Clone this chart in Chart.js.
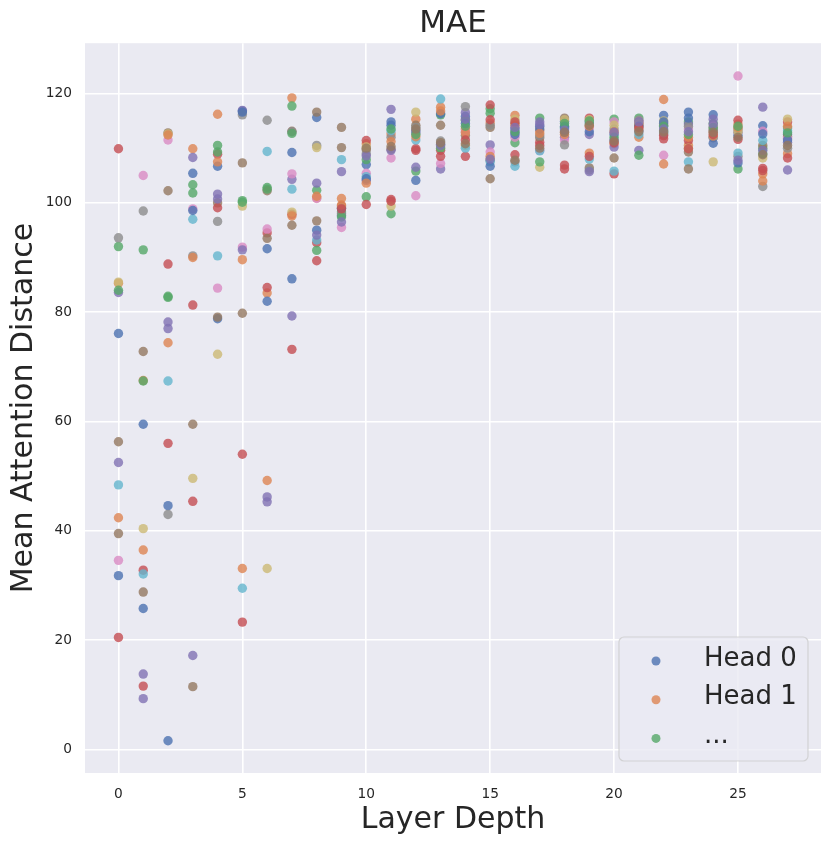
<!DOCTYPE html>
<html>
<head>
<meta charset="utf-8">
<script src="https://cdn.jsdelivr.net/npm/chart.js@4.4.1/dist/chart.umd.min.js"></script>
<style>
    html, body { margin: 0; padding: 0; background: white; }
    #maeChart { display: block; }
</style>
</head>
<body>
<canvas id="maeChart" width="831" height="845"></canvas>
<script>
/// Layer depth of every column of points
const layers = [0, 1, 2, 3, 4, 5, 6, 7, 8, 9, 10, 11, 12, 13, 14, 15, 16, 17, 18, 19, 20, 21, 22, 23, 24, 25, 26, 27];

/// Mean attention distance per head, one value per layer
const head0  = [76.1, 59.5, 44.6, 105.4, 106.7, 116.8, 91.6, 109.2, 115.6, 97.7, 107.0, 114.8, 113.2, 110.7, 115.8, 107.8, 113.5, 114.0, 114.9, 114.8, 112.5, 113.2, 116.0, 116.6, 116.1, 112.3, 114.1, 112.5];
const head1  = [85.3, 67.5, 74.4, 109.9, 116.2, 89.6, 83.5, 119.2, 100.9, 100.8, 110.8, 112.6, 115.3, 117.5, 113.5, 114.6, 116.0, 113.2, 113.0, 109.1, 110.8, 112.0, 118.9, 110.5, 113.0, 114.4, 105.3, 109.0];
const head2  = [92.0, 91.4, 82.9, 103.3, 110.5, 100.4, 102.8, 117.7, 102.3, 98.3, 107.9, 98.0, 105.8, 116.1, 115.1, 117.2, 111.0, 115.5, 113.8, 114.4, 115.3, 115.5, 113.2, 114.8, 114.5, 106.2, 110.0, 113.7];
const head3  = [109.9, 32.8, 88.8, 81.3, 108.9, 54.0, 94.5, 97.9, 92.7, 99.4, 111.4, 100.6, 109.9, 109.6, 108.5, 117.9, 108.8, 111.1, 106.9, 115.5, 105.3, 114.5, 111.7, 111.4, 111.9, 115.1, 105.9, 114.8];
const head4  = [83.6, 13.8, 77.0, 108.3, 101.6, 116.9, 46.2, 104.3, 103.6, 105.7, 104.1, 117.1, 112.8, 106.2, 116.5, 110.6, 112.9, 114.8, 112.0, 112.5, 110.2, 109.6, 114.2, 114.4, 115.3, 112.9, 117.5, 111.1];
const head5  = [56.3, 72.8, 112.8, 59.5, 100.0, 107.3, 102.2, 113.1, 116.6, 113.8, 109.7, 109.8, 114.2, 114.2, 112.3, 113.8, 114.5, 111.9, 115.5, 106.4, 108.2, 114.2, 112.6, 109.3, 113.5, 113.5, 110.5, 112.1];
const head6  = [34.6, 105.0, 111.5, 98.9, 84.4, 91.9, 95.2, 105.3, 100.8, 95.5, 105.4, 108.2, 101.3, 107.2, 113.0, 109.3, 112.0, 109.6, 111.5, 113.7, 114.8, 115.0, 108.7, 113.5, 114.0, 123.2, 113.1, 111.8];
const head7  = [93.6, 98.5, 43.0, 90.3, 96.6, 116.1, 115.1, 113.0, 110.5, 98.0, 109.0, 112.0, 113.8, 111.3, 117.6, 114.2, 107.5, 112.3, 110.6, 106.0, 113.5, 115.1, 114.5, 114.0, 113.2, 108.5, 103.0, 110.0];
const head8  = [85.5, 40.4, 112.6, 49.6, 72.3, 99.4, 33.1, 98.3, 110.1, 99.2, 110.2, 99.4, 116.6, 110.2, 110.5, 107.9, 115.3, 106.5, 115.2, 115.2, 114.2, 114.6, 115.0, 110.0, 107.5, 113.0, 108.2, 115.3];
const head9  = [48.4, 32.1, 67.4, 97.0, 90.3, 29.5, 109.4, 102.5, 93.2, 107.9, 104.8, 113.2, 111.5, 119.0, 110.0, 107.5, 106.7, 109.5, 113.6, 108.0, 105.8, 112.5, 112.8, 107.5, 112.0, 109.1, 111.4, 113.2];
const head10 = [31.8, 25.8, 1.6, 98.6, 78.8, 116.6, 82.0, 86.1, 95.0, 99.0, 104.4, 114.2, 104.1, 116.3, 114.5, 106.7, 112.5, 113.5, 114.0, 113.0, 111.5, 114.0, 114.8, 115.5, 110.9, 107.3, 112.6, 111.5];
const head11 = [42.4, 36.5, 112.4, 90.0, 107.5, 33.1, 49.2, 97.6, 101.2, 99.6, 103.6, 111.2, 112.1, 116.8, 112.8, 108.5, 114.2, 112.7, 112.5, 114.0, 113.0, 113.5, 107.1, 112.0, 112.2, 113.8, 104.0, 114.0];
const head12 = [84.0, 67.4, 82.7, 101.8, 109.3, 100.1, 102.5, 112.7, 91.3, 97.4, 101.1, 113.5, 112.5, 110.0, 114.0, 116.4, 113.0, 107.5, 114.5, 115.0, 112.0, 108.7, 114.0, 112.5, 113.8, 114.0, 109.0, 112.8];
const head13 = [20.5, 11.6, 56.0, 45.4, 99.1, 23.3, 84.5, 73.2, 89.4, 98.9, 99.7, 100.3, 109.6, 108.5, 111.5, 115.2, 114.8, 110.5, 106.2, 108.5, 111.0, 113.8, 112.3, 109.9, 112.5, 111.6, 106.3, 108.2];
const head14 = [52.5, 9.3, 78.2, 17.2, 100.7, 91.4, 45.3, 79.3, 94.1, 96.5, 108.6, 109.6, 106.5, 110.5, 115.3, 108.0, 113.8, 114.3, 113.3, 105.7, 112.9, 114.8, 113.5, 113.0, 114.4, 107.8, 109.6, 106.0];
const head15 = [39.5, 28.8, 102.2, 11.5, 79.1, 79.8, 93.5, 95.9, 96.7, 110.1, 110.0, 110.3, 113.5, 111.0, 110.8, 104.4, 107.8, 110.0, 112.9, 114.2, 111.3, 113.0, 113.0, 106.2, 112.9, 112.0, 108.8, 110.5];

const heads = [head0, head1, head2, head3, head4, head5, head6, head7, head8, head9,
               head10, head11, head12, head13, head14, head15];

/// Tick labels and legend entries
const xTicks = [0, 5, 10, 15, 20, 25];
const yTicks = [0, 20, 40, 60, 80, 100, 120];
const legendLabels = ['Head 0', 'Head 1', '...'];

// seaborn "deep" palette, cycled over the heads
const palette = ['76, 114, 176', '221, 132, 82', '85, 168, 104', '196, 78, 82', '129, 114, 179',
                 '147, 120, 96', '218, 139, 195', '140, 140, 140', '204, 185, 116', '100, 181, 205'];

const textColor = '#262626';
const fontFamily = "'DejaVu Sans', sans-serif";

const datasets = heads.map((values, i) => ({
    label: 'Head ' + i,
    data: layers.map((layer, j) => ({ x: layer, y: values[j] })),
    backgroundColor: 'rgba(' + palette[i % palette.length] + ', 0.8)',
    borderWidth: 0,
    pointRadius: 4.7,
    order: heads.length - i   // later heads drawn on top, like matplotlib
}));

/// Plot background colour (seaborn darkgrid)
const plotBackground = {
    id: 'plotBackground',
    beforeDraw(chart) {
        const { ctx, chartArea: a } = chart;
        ctx.save();
        ctx.fillStyle = '#EAEAF2';
        ctx.fillRect(a.left, a.top, a.right - a.left, a.bottom - a.top);
        ctx.restore();
    }
};

/// Legend box in the lower right corner of the plot
const cornerLegend = {
    id: 'cornerLegend',
    afterDraw(chart) {
        const ctx = chart.ctx;
        const area = chart.chartArea;
        const boxW = 189, boxH = 124;
        const x0 = area.right - 13 - boxW;
        const y0 = area.bottom - 12 - boxH;
        ctx.save();
        ctx.beginPath();
        ctx.roundRect(x0, y0, boxW, boxH, 5);
        ctx.fillStyle = 'rgba(234, 234, 242, 0.8)';
        ctx.fill();
        ctx.strokeStyle = 'rgba(204, 204, 204, 0.8)';
        ctx.lineWidth = 1.2;
        ctx.stroke();
        ctx.font = '26px ' + fontFamily;
        ctx.textBaseline = 'middle';
        ctx.textAlign = 'left';
        legendLabels.forEach((label, i) => {
            const cy = y0 + 24 + i * 38.7;
            ctx.beginPath();
            ctx.arc(x0 + 37, cy, 4.5, 0, Math.PI * 2);
            ctx.fillStyle = 'rgba(' + palette[i] + ', 0.8)';
            ctx.fill();
            ctx.fillStyle = textColor;
            ctx.fillText(label, x0 + 85, cy - 2);
        });
        ctx.restore();
    }
};

/// Setup scatter chart
const maeChart = new Chart('maeChart', {
    type: 'scatter',
    data: { datasets: datasets },
    plugins: [plotBackground, cornerLegend],
    options: {
        responsive: false,
        animation: false,
        events: [],
        layout: { padding: { left: 0, right: 10, top: 0, bottom: 0 } },
        plugins: {
            legend: { display: false },
            tooltip: { enabled: false },
            title: {
                display: true,
                fullSize: false,   // centre the title over the plot area only
                text: 'MAE',
                color: textColor,
                font: { family: fontFamily, size: 31, weight: 'normal' },
                padding: { top: 5, bottom: 1 }
            }
        },
        scales: {
            x: {
                type: 'linear',
                min: -1.35,
                max: 28.35,
                afterBuildTicks: (scale) => { scale.ticks = xTicks.map(v => ({ value: v })); },
                afterFit: (scale) => { scale.height = 72; },
                border: { display: false },
                grid: { color: 'white', lineWidth: 1.6, drawTicks: false },
                ticks: {
                    color: textColor,
                    padding: 13,
                    font: { family: fontFamily, size: 13.75 }
                },
                title: {
                    display: true,
                    text: 'Layer Depth',
                    color: textColor,
                    font: { family: fontFamily, size: 30 },
                    padding: { top: 0, bottom: 7 }
                }
            },
            y: {
                min: -4.3,
                max: 129.2,
                afterBuildTicks: (scale) => { scale.ticks = yTicks.map(v => ({ value: v })); },
                afterFit: (scale) => { scale.width = 85; },
                border: { display: false },
                grid: { color: 'white', lineWidth: 1.6, drawTicks: false },
                ticks: {
                    color: textColor,
                    padding: 13,
                    font: { family: fontFamily, size: 13.75 }
                },
                title: {
                    display: true,
                    text: 'Mean Attention Distance',
                    color: textColor,
                    font: { family: fontFamily, size: 30 },
                    padding: { top: 6, bottom: 0 }
                }
            }
        }
    }
});
</script>
</body>
</html>
